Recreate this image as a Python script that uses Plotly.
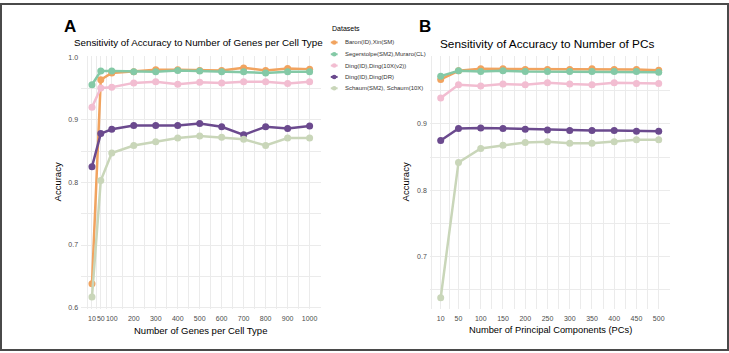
import plotly.graph_objects as go

# ---------------- data ----------------
genes = [10, 50, 100, 200, 300, 400, 500, 600, 700, 800, 900, 1000]
pcs = [10, 50, 100, 150, 200, 250, 300, 350, 400, 450, 500]

datasets = ["Baron(ID),Xin(SM)", "Segerstolpe(SM2),Muraro(CL)",
            "Ding(ID),Ding(10X(v2))", "Ding(ID),Ding(DR)",
            "Schaum(SM2), Schaum(10X)"]
colors = ["#F1A35F", "#84C9A6", "#F2BDD1", "#6B4A8E", "#C9D6B9"]

# Panel A: accuracy vs number of genes per cell type
acc_genes_baron = [0.638, 0.964, 0.975, 0.977, 0.980, 0.980, 0.979, 0.979, 0.983, 0.979, 0.982, 0.981]
acc_genes_seger = [0.956, 0.978, 0.978, 0.977, 0.977, 0.979, 0.978, 0.977, 0.977, 0.975, 0.977, 0.977]
acc_genes_ding10x = [0.920, 0.951, 0.952, 0.959, 0.961, 0.957, 0.960, 0.959, 0.961, 0.961, 0.958, 0.961]
acc_genes_dingdr = [0.825, 0.878, 0.885, 0.891, 0.891, 0.891, 0.894, 0.889, 0.876, 0.889, 0.886, 0.890]
acc_genes_schaum = [0.617, 0.803, 0.847, 0.859, 0.865, 0.871, 0.874, 0.872, 0.869, 0.859, 0.871, 0.871]

# Panel B: accuracy vs number of principal components
acc_pcs_baron = [0.967, 0.980, 0.983, 0.983, 0.982, 0.982, 0.982, 0.983, 0.982, 0.982, 0.981]
acc_pcs_seger = [0.972, 0.980, 0.979, 0.980, 0.979, 0.979, 0.979, 0.979, 0.979, 0.979, 0.978]
acc_pcs_ding10x = [0.939, 0.959, 0.957, 0.960, 0.959, 0.962, 0.960, 0.959, 0.962, 0.961, 0.961]
acc_pcs_dingdr = [0.875, 0.893, 0.894, 0.893, 0.892, 0.891, 0.890, 0.890, 0.890, 0.889, 0.889]
acc_pcs_schaum = [0.638, 0.842, 0.863, 0.868, 0.872, 0.873, 0.871, 0.871, 0.873, 0.876, 0.876]

series_genes = [acc_genes_baron, acc_genes_seger, acc_genes_ding10x, acc_genes_dingdr, acc_genes_schaum]
series_pcs = [acc_pcs_baron, acc_pcs_seger, acc_pcs_ding10x, acc_pcs_dingdr, acc_pcs_schaum]

yticks_a = [0.6, 0.7, 0.8, 0.9, 1.0]
yticks_b = [0.7, 0.8, 0.9]

# ---------------- figure ----------------
W, H = 729, 353
def px(x):
    return x / W
def py(y):
    return 1 - y / H

fig = go.Figure()
for name, col, ys in zip(datasets, colors, series_genes):
    fig.add_trace(go.Scatter(x=genes, y=ys, mode="lines+markers", name=name,
                             line=dict(color=col, width=2.5),
                             marker=dict(color=col, size=7),
                             xaxis="x", yaxis="y", showlegend=False))
for name, col, ys in zip(datasets, colors, series_pcs):
    fig.add_trace(go.Scatter(x=pcs, y=ys, mode="lines+markers", name=name,
                             line=dict(color=col, width=2.5),
                             marker=dict(color=col, size=7),
                             xaxis="x2", yaxis="y2", showlegend=False))

GRID = "#EBEBEB"
TICKFONT = dict(family="Liberation Sans, Arial, sans-serif", size=7, color="#4D4D4D")
ydom = [py(310), py(54)]

def mids(v):
    return [(a + b) / 2 for a, b in zip(v[:-1], v[1:])]

common_axis = dict(showline=False, zeroline=False, ticks="", showgrid=True,
                   gridcolor=GRID, gridwidth=1, tickfont=TICKFONT, tickmode="array",
                   tickangle=0)

fig.update_layout(
    width=W, height=H,
    margin=dict(l=0, r=0, t=0, b=0),
    paper_bgcolor="white", plot_bgcolor="white",
    font=dict(family="Liberation Sans, Arial, sans-serif", color="black"),
    xaxis=dict(domain=[px(81.1), px(320.5)], range=[-39.5, 1049.5], anchor="y",
               tickvals=genes, ticktext=[str(g) for g in genes], ticklabelstandoff=4,
               minor=dict(tickvals=[-10] + mids(genes), showgrid=True, gridcolor=GRID, gridwidth=0.5),
               **common_axis),
    yaxis=dict(domain=ydom, range=[0.5984, 1.0016], anchor="x",
               tickvals=yticks_a, ticktext=[f"{v:.1f}" for v in yticks_a], ticklabelstandoff=2,
               minor=dict(tickvals=mids(yticks_a), showgrid=True, gridcolor=GRID, gridwidth=0.5),
               **common_axis),
    xaxis2=dict(domain=[px(429.8), px(669.6)], range=[-14.5, 524.5], anchor="y2",
                tickvals=pcs, ticktext=[str(p) for p in pcs], ticklabelstandoff=4,
                minor=dict(tickvals=[-10] + mids(pcs), showgrid=True, gridcolor=GRID, gridwidth=0.5),
                **common_axis),
    yaxis2=dict(domain=ydom, range=[0.6217, 1.0020], anchor="x2",
                tickvals=yticks_b, ticktext=[f"{v:.1f}" for v in yticks_b], ticklabelstandoff=2,
                minor=dict(tickvals=[0.65, 0.75, 0.85, 0.95], showgrid=True, gridcolor=GRID, gridwidth=0.5),
                **common_axis),
)

ann = []
def text(x, y, s, size, **kw):
    d = dict(x=px(x), y=py(y), xref="paper", yref="paper", text=s, showarrow=False,
             font=dict(size=size, color=kw.pop("color", "black"),
                       family="Liberation Sans, Arial, sans-serif"),
             xanchor=kw.pop("xanchor", "center"), yanchor=kw.pop("yanchor", "middle"))
    d.update(kw)
    ann.append(d)

# panel tags
text(69.5, 24, "<b>A</b>", 17)
text(425, 24, "<b>B</b>", 17)
# titles
text(198, 40, "Sensitivity of Accuracy to Number of Genes per Cell Type", 9.8)
text(547, 41.5, "Sensitivity of Accuracy to Number of PCs", 11.8)
# axis titles
text(200.5, 332, "Number of Genes per Cell Type", 9.5)
text(550, 332, "Number of Principal Components (PCs)", 9.3)
text(57, 182, "Accuracy", 9.5, textangle=-90)
text(405, 182, "Accuracy", 9.5, textangle=-90)

# manual legend
text(330, 26, "Datasets", 7, xanchor="left")
shapes = []
leg_y = [40, 52, 63.5, 75, 86.5]
for name, col, yy in zip(datasets, colors, leg_y):
    shapes.append(dict(type="line", xref="paper", yref="paper",
                       x0=px(330.8), x1=px(337.6), y0=py(yy), y1=py(yy),
                       line=dict(color=col, width=2)))
    shapes.append(dict(type="circle", xref="paper", yref="paper",
                       x0=px(331.9), x1=px(336.5), y0=py(yy + 2.3), y1=py(yy - 2.3),
                       fillcolor=col, line=dict(color=col, width=0)))
    text(343, yy, name, 6, xanchor="left", color="#333333")

# figure border
shapes.append(dict(type="rect", xref="paper", yref="paper",
                   x0=px(1), x1=px(728), y0=py(352), y1=py(1),
                   line=dict(color="#4A4A4A", width=2), fillcolor="rgba(0,0,0,0)"))

fig.update_layout(annotations=ann, shapes=shapes)
fig.write_html("out.html", config={"displayModeBar": False},
               post_script="document.body.style.margin='0px';document.body.style.padding='0px';")
